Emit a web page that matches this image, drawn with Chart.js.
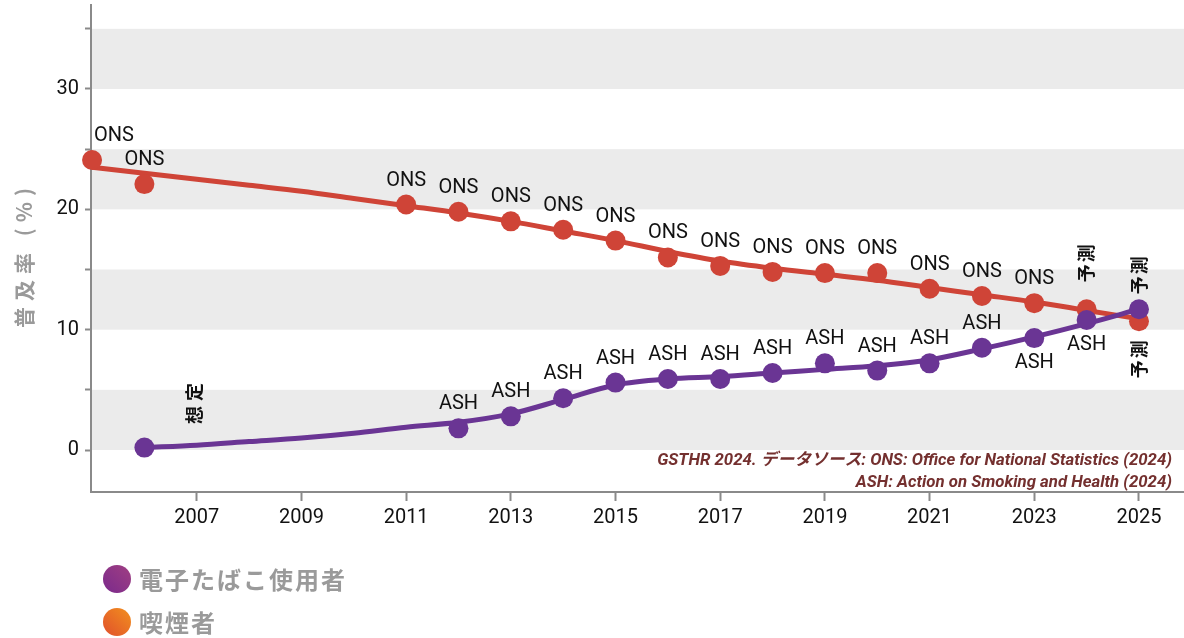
<!DOCTYPE html>
<html lang="ja">
<head>
<meta charset="utf-8">
<script src="https://cdn.jsdelivr.net/npm/chart.js@4.4.1/dist/chart.umd.min.js"></script>
<style>
html, body { margin: 0; padding: 0; background: #fff; }
#wrap { position: relative; width: 1184px; height: 638px; }
</style>
</head>
<body>
<div id="wrap"><canvas id="prevalenceChart" width="1184" height="638"></canvas></div>
<script>
var smokerYears = [2005, 2006, 2011, 2012, 2013, 2014, 2015, 2016, 2017, 2018, 2019, 2020, 2021, 2022, 2023, 2024, 2025];
var smokerValues = [24.1, 22.1, 20.4, 19.8, 19.0, 18.3, 17.4, 16.0, 15.3, 14.8, 14.7, 14.7, 13.4, 12.8, 12.2, 11.7, 10.7];
var smokerLabels = ['ONS', 'ONS', 'ONS', 'ONS', 'ONS', 'ONS', 'ONS', 'ONS', 'ONS', 'ONS', 'ONS', 'ONS', 'ONS', 'ONS', 'ONS', '予測', '予測'];

var vaperYears = [2006, 2012, 2013, 2014, 2015, 2016, 2017, 2018, 2019, 2020, 2021, 2022, 2023, 2024, 2025];
var vaperValues = [0.2, 1.8, 2.8, 4.3, 5.6, 5.9, 5.9, 6.4, 7.2, 6.6, 7.2, 8.5, 9.3, 10.8, 11.7];
var vaperLabels = ['想定', 'ASH', 'ASH', 'ASH', 'ASH', 'ASH', 'ASH', 'ASH', 'ASH', 'ASH', 'ASH', 'ASH', 'ASH', 'ASH', '予測'];

// smoothed trend lines
var smokerTrendYears = [2005, 2006, 2007, 2008, 2009, 2010, 2011, 2012, 2013, 2014, 2015, 2016, 2017, 2018, 2019, 2020, 2021, 2022, 2023, 2024, 2025];
var smokerTrend = [23.5, 23.0, 22.5, 22.0, 21.5, 20.9, 20.3, 19.7, 19.0, 18.2, 17.4, 16.5, 15.7, 15.1, 14.6, 14.1, 13.5, 12.9, 12.3, 11.6, 10.9];
var vaperTrendYears = [2006, 2007, 2008, 2009, 2010, 2011, 2012, 2013, 2014, 2015, 2016, 2017, 2018, 2019, 2020, 2021, 2022, 2023, 2024, 2025];
var vaperTrend = [0.2, 0.4, 0.7, 1.0, 1.4, 1.9, 2.3, 3.0, 4.2, 5.4, 5.9, 6.1, 6.4, 6.7, 7.0, 7.5, 8.4, 9.4, 10.5, 11.7];

var xTickYears = [2007, 2009, 2011, 2013, 2015, 2017, 2019, 2021, 2023, 2025];
var yTickValues = [0, 5, 10, 15, 20, 25, 30, 35];
var bandRanges = [[0, 5], [10, 15], [20, 25], [30, 35]];

var legendNames = ['電子たばこ使用者', '喫煙者'];
var sourceLines = ['GSTHR 2024. データソース: ONS: Office for National Statistics (2024)', 'ASH: Action on Smoking and Health (2024)'];

var RED = '#cf4437';
var PURPLE = '#6a3594';

function toPoints(xs, ys) {
    var out = [];
    for (var i = 0; i < xs.length; i++) {
        out.push({x: xs[i], y: ys[i]});
    }
    return out;
}

var bandsPlugin = {
    id: 'bands',
    beforeDraw: function(chart) {
        var ctx = chart.ctx, area = chart.chartArea, y = chart.scales.y;
        ctx.save();
        ctx.fillStyle = '#ebebeb';
        bandRanges.forEach(function(r) {
            var top = y.getPixelForValue(r[1]);
            var bottom = y.getPixelForValue(r[0]);
            ctx.fillRect(area.left + 1, top, area.right - area.left, bottom - top);
        });
        ctx.restore();
    }
};

function drawVertical(ctx, text, x, y, spacing) {
    ctx.save();
    ctx.translate(x, y);
    ctx.rotate(-Math.PI / 2);
    ctx.font = 'bold 18px "Noto Sans CJK JP"';
    ctx.letterSpacing = spacing + 'px';
    ctx.textAlign = 'center';
    ctx.textBaseline = 'middle';
    ctx.fillText(text, spacing / 2, 0);
    ctx.restore();
}

function drawSeriesLabels(chart, datasetIndex, labels, years, belowYears) {
    var ctx = chart.ctx;
    var meta = chart.getDatasetMeta(datasetIndex);
    meta.data.forEach(function(pt, i) {
        var text = labels[i];
        var below = belowYears.indexOf(years[i]) >= 0;
        ctx.fillStyle = '#111';
        if (text === '想定') {
            drawVertical(ctx, text, pt.x + 50, pt.y - 44, 5);
        } else if (text === '予測') {
            drawVertical(ctx, text, pt.x, below ? pt.y + 50 : pt.y - 46, 2);
        } else {
            ctx.font = '20px Roboto';
            ctx.textBaseline = 'middle';
            var w = ctx.measureText(text).width;
            var x = pt.x;
            ctx.textAlign = 'center';
            if (x - w / 2 < chart.chartArea.left) {
                ctx.textAlign = 'left';
                x = pt.x + 2;
            }
            ctx.fillText(text, x, below ? pt.y + 25 : pt.y - 24);
        }
    });
}

var labelsPlugin = {
    id: 'pointLabels',
    afterDatasetsDraw: function(chart) {
        chart.ctx.save();
        drawSeriesLabels(chart, 2, smokerLabels, smokerYears, []);
        drawSeriesLabels(chart, 3, vaperLabels, vaperYears, [2023, 2024, 2025]);
        chart.ctx.restore();
    }
};

var extrasPlugin = {
    id: 'extras',
    afterDraw: function(chart) {
        var ctx = chart.ctx;
        ctx.save();

        // y axis title
        ctx.translate(24, 258);
        ctx.rotate(-Math.PI / 2);
        ctx.font = 'bold 21px "Noto Sans CJK JP"';
        ctx.letterSpacing = '6px';
        ctx.fillStyle = '#9a9a9a';
        ctx.textAlign = 'center';
        ctx.textBaseline = 'middle';
        ctx.fillText('普及率 (%)', 3, 0);
        ctx.restore();

        // source note
        ctx.save();
        ctx.font = 'italic bold 16.8px Roboto, "Noto Sans CJK JP"';
        ctx.fillStyle = '#74302f';
        ctx.textAlign = 'right';
        ctx.textBaseline = 'middle';
        ctx.fillText(sourceLines[0], 1172, 461);
        ctx.fillText(sourceLines[1], 1172, 483);
        ctx.restore();

        // legend
        var swatches = [['#7a2a8c', '#a03f82'], ['#e0502c', '#f2901e']];
        var rows = [579, 622];
        ctx.save();
        for (var i = 0; i < legendNames.length; i++) {
            var cy = rows[i];
            var g = ctx.createLinearGradient(103, cy + 14, 131, cy - 14);
            g.addColorStop(0, swatches[i][0]);
            g.addColorStop(1, swatches[i][1]);
            ctx.fillStyle = g;
            ctx.beginPath();
            ctx.arc(117, cy, 14, 0, Math.PI * 2);
            ctx.fill();
            ctx.font = 'bold 24px "Noto Sans CJK JP"';
            ctx.letterSpacing = '2px';
            ctx.fillStyle = '#9a9a9a';
            ctx.textAlign = 'left';
            ctx.textBaseline = 'middle';
            ctx.fillText(legendNames[i], 139, cy + 1);
        }
        ctx.restore();
    }
};

var ctx = document.getElementById('prevalenceChart').getContext('2d');
var prevalenceChart = new Chart(ctx, {
    type: 'line',
    data: {
        datasets: [{
            label: '喫煙者 trend',
            data: toPoints(smokerTrendYears, smokerTrend),
            borderColor: RED,
            borderWidth: 5,
            pointRadius: 0,
            cubicInterpolationMode: 'monotone',
            order: 3,
            clip: false
        }, {
            label: '電子たばこ使用者 trend',
            data: toPoints(vaperTrendYears, vaperTrend),
            borderColor: PURPLE,
            borderWidth: 5,
            pointRadius: 0,
            cubicInterpolationMode: 'monotone',
            order: 2,
            clip: false
        }, {
            label: legendNames[1],
            data: toPoints(smokerYears, smokerValues),
            showLine: false,
            pointRadius: 10,
            pointBackgroundColor: RED,
            pointBorderWidth: 0,
            order: 1,
            clip: false
        }, {
            label: legendNames[0],
            data: toPoints(vaperYears, vaperValues),
            showLine: false,
            pointRadius: 10,
            pointBackgroundColor: PURPLE,
            pointBorderWidth: 0,
            order: 0,
            clip: false
        }]
    },
    options: {
        responsive: false,
        animation: false,
        events: [],
        layout: { autoPadding: false, padding: { top: 5, right: 0, bottom: 0, left: 0 } },
        plugins: {
            legend: { display: false },
            tooltip: { enabled: false }
        },
        scales: {
            x: {
                type: 'linear',
                min: 2004.98,
                max: 2025.86,
                afterBuildTicks: function(scale) {
                    scale.ticks = xTickYears.map(function(v) { return {value: v}; });
                },
                afterFit: function(scale) {
                    scale.height = 146;
                    scale.paddingLeft = 0;
                    scale.paddingRight = 0;
                },
                ticks: {
                    autoSkip: false,
                    maxRotation: 0,
                    padding: 5,
                    color: '#111',
                    font: { family: 'Roboto', size: 20 },
                    callback: function(v) { return String(v); }
                },
                grid: {
                    drawOnChartArea: false,
                    drawTicks: true,
                    tickLength: 9,
                    tickWidth: 2,
                    tickColor: '#8a8a8a'
                },
                border: { display: true, color: '#8a8a8a', width: 2 }
            },
            y: {
                min: -3.49,
                max: 36.98,
                afterBuildTicks: function(scale) {
                    scale.ticks = yTickValues.map(function(v) { return {value: v}; });
                },
                afterFit: function(scale) {
                    scale.width = 91;
                    scale.paddingTop = 0;
                    scale.paddingBottom = 0;
                },
                ticks: {
                    autoSkip: false,
                    padding: 6,
                    color: '#111',
                    font: { family: 'Roboto', size: 20 },
                    callback: function(v) { return v % 10 === 0 ? String(v) : ''; }
                },
                grid: {
                    drawOnChartArea: false,
                    drawTicks: true,
                    tickLength: 6,
                    tickWidth: 2,
                    tickColor: '#8a8a8a'
                },
                border: { display: true, color: '#8a8a8a', width: 2 }
            }
        }
    },
    plugins: [bandsPlugin, labelsPlugin, extrasPlugin]
});
</script>
</body>
</html>
